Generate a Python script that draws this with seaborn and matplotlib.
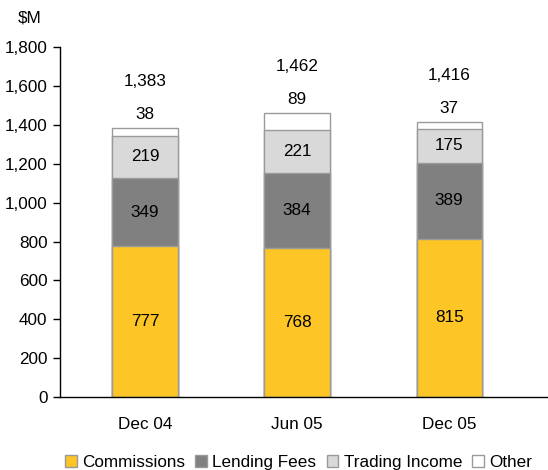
import pandas as pd
import matplotlib
matplotlib.use('Agg')
import matplotlib.pyplot as plt
import seaborn as sns
from matplotlib.patches import Patch

periods = ['Dec 04', 'Jun 05', 'Dec 05']
commissions = [777, 768, 815]
lending_fees = [349, 384, 389]
trading_income = [219, 221, 175]
other = [38, 89, 37]
totals = [1383, 1462, 1416]

series = ['Commissions', 'Lending Fees', 'Trading Income', 'Other']
colors = ['#FDC626', '#808080', '#D9D9D9', '#FFFFFF']

sns.set_style('white')
plt.rcParams['font.family'] = ['Liberation Sans', 'DejaVu Sans']
plt.rcParams['text.color'] = 'black'
plt.rcParams['xtick.color'] = 'black'
plt.rcParams['ytick.color'] = 'black'

df = pd.DataFrame({'period': periods, 'Commissions': commissions,
                   'Lending Fees': lending_fees, 'Trading Income': trading_income,
                   'Other': other})
cum = df[series].cumsum(axis=1)

fig = plt.figure(figsize=(5.48, 4.70), dpi=100)
ax = fig.add_axes([0.1095, 0.155, 0.8905, 0.745])

# stacked bars: draw cumulative heights from top down
for name, col in reversed(list(zip(series, colors))):
    sns.barplot(x=df['period'], y=cum[name], color=col, width=0.43,
                edgecolor='#9A9A9A', linewidth=1, saturation=1, ax=ax)

fs = 12.3
for i in range(len(periods)):
    base = 0
    for name in series[:3]:
        v = df[name][i]
        ax.text(i, base + v / 2, f'{v:,}', ha='center', va='center', fontsize=fs)
        base += v
    ax.text(i, totals[i] + 70, f'{other[i]:,}', ha='center', va='center', fontsize=fs)
    ax.text(i, totals[i] + 240, f'{totals[i]:,}', ha='center', va='center', fontsize=fs)

ax.set_ylim(0, 1800)
ax.set_xlim(-0.56, 2.65)
ax.set_yticks(range(0, 1801, 200))
ax.set_yticklabels([f'{t:,}' for t in range(0, 1801, 200)], fontsize=fs)
ax.tick_params(axis='x', labelsize=fs, length=0, pad=14)
ax.tick_params(axis='y', length=5, width=1, color='black', left=True, direction='out', pad=4)
ax.set_xlabel('')
ax.set_ylabel('')
for s in ['top', 'right']:
    ax.spines[s].set_visible(False)
for s in ['left', 'bottom']:
    ax.spines[s].set_color('black')
    ax.spines[s].set_linewidth(1)

fig.text(0.033, 0.962, '$M', fontsize=fs, ha='left', va='center')

handles = [Patch(facecolor=c, edgecolor='#9A9A9A', label=n) for n, c in zip(series, colors)]
fig.legend(handles=handles, loc='center', bbox_to_anchor=(0.545, 0.015), ncol=4,
           frameon=False, fontsize=fs, handlelength=0.7, handleheight=0.7,
           handletextpad=0.3, columnspacing=0.6)

fig.savefig('out.png', dpi=100)
